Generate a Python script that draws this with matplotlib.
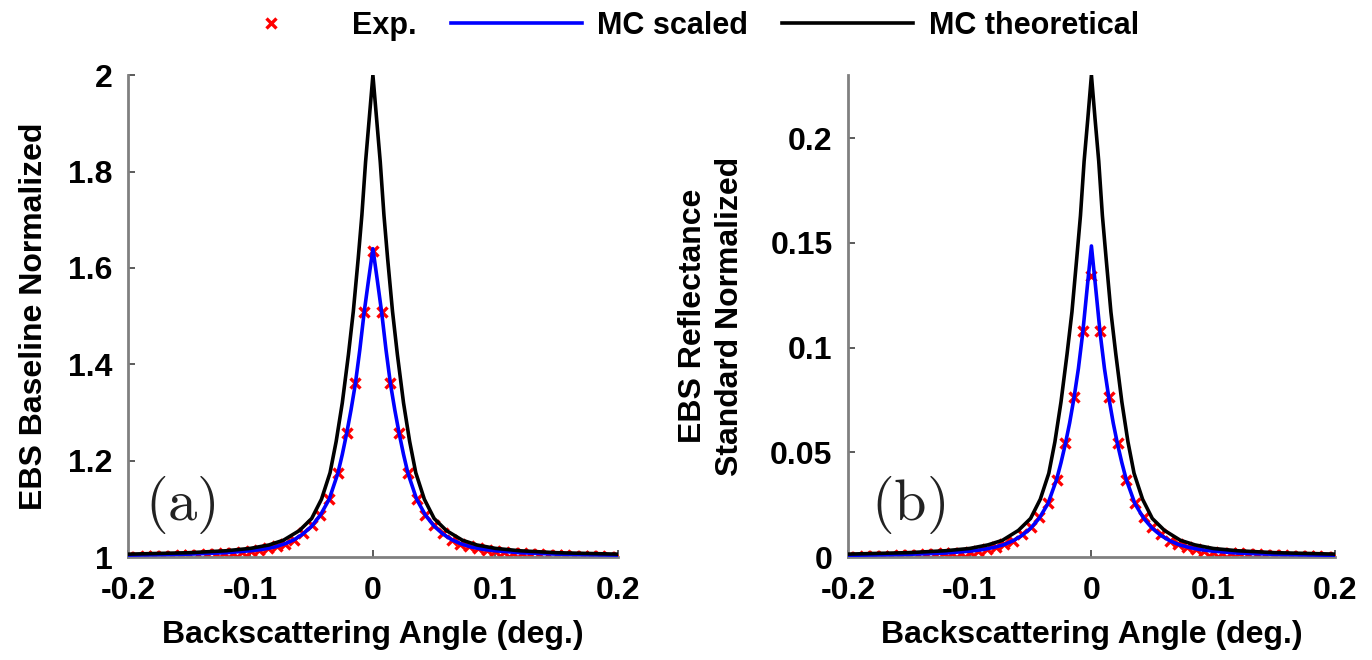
import numpy as np
import matplotlib
matplotlib.use("Agg")
import matplotlib.pyplot as plt

plt.rcParams['font.family'] = ['Liberation Sans', 'DejaVu Sans']
plt.rcParams['font.weight'] = 'bold'
plt.rcParams['mathtext.fontset'] = 'cm'

# experimental points: half profile, step ~0.00714 deg (mirrored about 0)
exp_step = 0.00714
exp_a_half = [1.635, 1.508, 1.361, 1.257, 1.174, 1.120, 1.087, 1.066, 1.050,
              1.036, 1.028, 1.022, 1.018, 1.015, 1.012, 1.010, 1.009, 1.008,
              1.007, 1.006, 1.005, 1.004, 1.004, 1.003, 1.003, 1.002, 1.002,
              1.001, 1.001]
exp_b_half = [0.134, 0.108, 0.0765, 0.0546, 0.037, 0.026, 0.019, 0.0142,
              0.0108, 0.0076, 0.0060, 0.0047, 0.0038, 0.0031, 0.0025, 0.0021,
              0.0019, 0.0017, 0.0015, 0.0013, 0.0011, 0.0009, 0.0008, 0.0006,
              0.0005, 0.0004, 0.0003, 0.0002, 0.0002]

# MC scaled (blue), half profile
blue_x = [0, 0.00357, 0.00714, 0.0107, 0.0143, 0.0179, 0.0214, 0.025, 0.0286,
          0.0357, 0.0429, 0.05, 0.0571, 0.0643, 0.0714, 0.08, 0.09, 0.1, 0.12,
          0.15, 0.2]
blue_a = [1.640, 1.575, 1.508, 1.430, 1.360, 1.305, 1.257, 1.213, 1.174,
          1.120, 1.087, 1.064, 1.048, 1.036, 1.028, 1.021, 1.016, 1.013,
          1.009, 1.006, 1.004]
blue_b = [0.1485, 0.128, 0.107, 0.090, 0.076, 0.064, 0.054, 0.045, 0.037,
          0.0255, 0.0185, 0.0137, 0.0103, 0.0078, 0.0060, 0.0046, 0.0035,
          0.0028, 0.0019, 0.0013, 0.0008]

# MC theoretical (black), half profile
black_x = [0, 0.003, 0.006, 0.009, 0.012, 0.016, 0.020, 0.025, 0.030, 0.035,
           0.042, 0.050, 0.060, 0.073, 0.085, 0.100, 0.120, 0.150, 0.200]
black_a = [2.000, 1.910, 1.820, 1.710, 1.620, 1.510, 1.420, 1.320, 1.240,
           1.175, 1.120, 1.080, 1.055, 1.035, 1.025, 1.018, 1.013, 1.009,
           1.006]
black_b = [0.230, 0.209, 0.189, 0.163, 0.143, 0.117, 0.097, 0.074, 0.055,
           0.040, 0.0276, 0.0184, 0.0127, 0.0080, 0.0058, 0.0041, 0.0030,
           0.0021, 0.0014]


def mirror(x, y):
    x = np.asarray(x, float)
    y = np.asarray(y, float)
    return (np.concatenate([-x[:0:-1], x]), np.concatenate([y[:0:-1], y]))


exp_x = np.arange(len(exp_a_half)) * exp_step

fig = plt.figure(figsize=(13.72, 6.6), dpi=100)
ax1 = fig.add_axes([0.0933, 0.156, 0.357, 0.730])
ax2 = fig.add_axes([0.618, 0.156, 0.355, 0.730])

FS = 23

panels = [
    (ax1, exp_a_half, blue_a, black_a, (1, 2), [1, 1.2, 1.4, 1.6, 1.8, 2],
     ['1', '1.2', '1.4', '1.6', '1.8', '2'], 'EBS Baseline Normalized', '(a)', 0.035, 14),
    (ax2, exp_b_half, blue_b, black_b, (0, 0.23), [0, 0.05, 0.1, 0.15, 0.2],
     ['0', '0.05', '0.1', '0.15', '0.2'],
     'EBS Reflectance\nStandard Normalized', '(b)', 0.047, 18),
]

handles = None
for ax, ex, bl, bk, ylim, yt, ytl, ylab, tag, tx, ylpad in panels:
    bx, by = mirror(blue_x, bl)
    kx, ky = mirror(black_x, bk)
    mx, my = mirror(exp_x, ex)
    h1, = ax.plot(mx, my, 'x', color='red', markersize=6.5, mew=2.4,
                  label='Exp.', zorder=2)
    h2, = ax.plot(bx, by, '-', color='#0000ff', linewidth=2.6,
                  label='MC scaled', zorder=3)
    h3, = ax.plot(kx, ky, '-', color='black', linewidth=2.6,
                  label='MC theoretical', zorder=3)
    handles = [h1, h2, h3]

    ax.set_xlim(-0.2, 0.2)
    ax.set_ylim(*ylim)
    ax.set_xticks([-0.2, -0.1, 0, 0.1, 0.2])
    ax.set_xticklabels(['-0.2', '-0.1', '0', '0.1', '0.2'])
    ax.set_yticks(yt)
    ax.set_yticklabels(ytl)
    ax.spines['top'].set_visible(False)
    ax.spines['right'].set_visible(False)
    for s in ('left', 'bottom'):
        ax.spines[s].set_color('#808080')
        ax.spines[s].set_linewidth(2)
    ax.tick_params(direction='in', length=5, width=1.2, color='#404040',
                   labelsize=FS)
    ax.tick_params(axis='x', pad=14)
    ax.tick_params(axis='y', pad=11)
    for lab in ax.get_xticklabels() + ax.get_yticklabels():
        lab.set_fontweight('bold')
    ax.set_xlabel('Backscattering Angle (deg.)', fontsize=FS,
                  fontweight='bold', labelpad=10)
    ax.set_ylabel(ylab, fontsize=FS, fontweight='bold', labelpad=ylpad,
                  linespacing=1.3)
    ax.text(tx, 0.108, r'$\mathrm{' + tag + '}$', transform=ax.transAxes,
            fontsize=42, va='center', ha='left', color='#222222')

fig.legend(handles, ['Exp.', 'MC scaled', 'MC theoretical'], loc='upper center',
           bbox_to_anchor=(0.49, 1.025), ncol=3, frameon=False,
           handlelength=4.3, handletextpad=0.5, columnspacing=1.1,
           prop={'weight': 'bold', 'size': 22})

fig.savefig('out.png', dpi=100)
